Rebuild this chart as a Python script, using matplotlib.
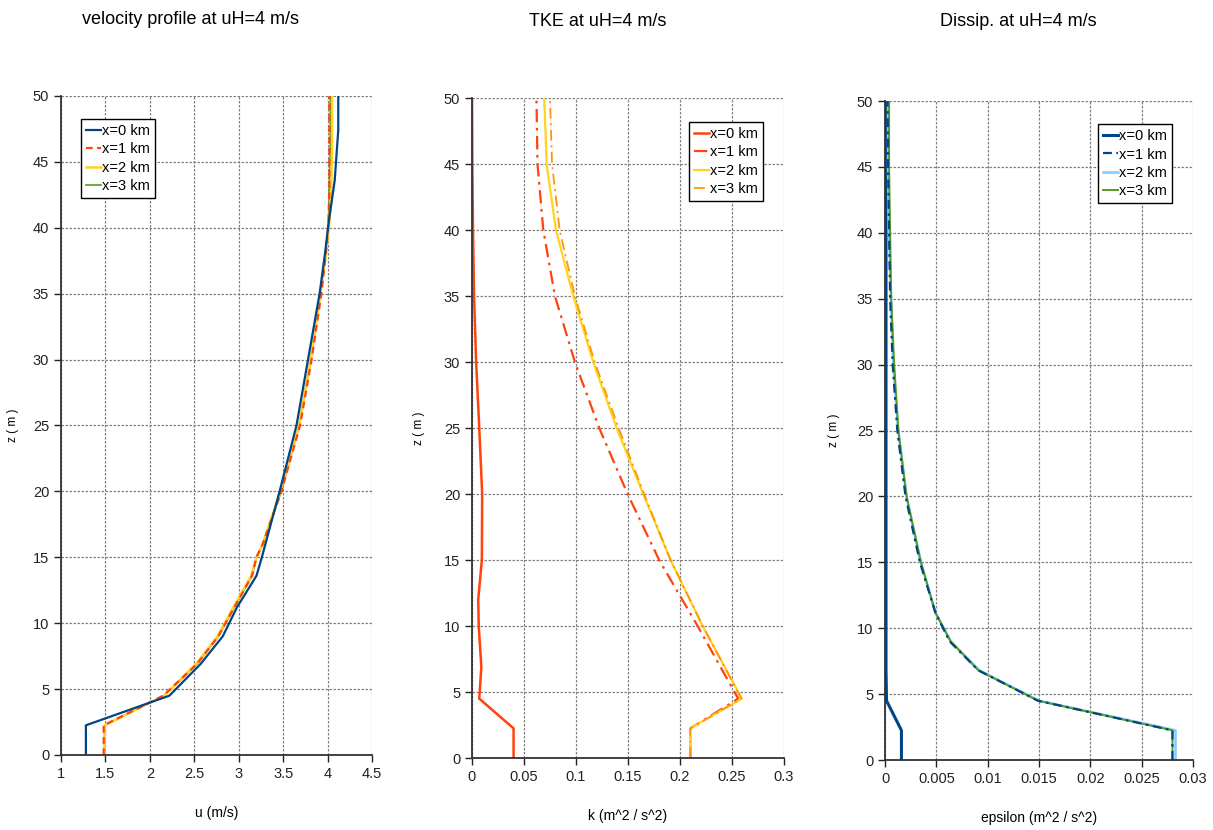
import numpy as np
import matplotlib
matplotlib.use("Agg")
import matplotlib.pyplot as plt
from matplotlib.ticker import FuncFormatter, MultipleLocator

plt.rcParams['font.family'] = ['Liberation Sans', 'DejaVu Sans']

# velocity profiles, u (m/s) against height z (m)
z_u0 = [0, 2.25, 4.5, 6.9, 9.0, 11.2, 13.6, 15, 16, 20, 25, 30, 35, 38, 40.3, 43.6, 47.4, 50]
u0 = [1.28, 1.28, 2.22, 2.57, 2.82, 2.98, 3.20, 3.26, 3.30, 3.46, 3.65, 3.78, 3.91, 3.97, 4.01, 4.08, 4.12, 4.12]
z_u = [0, 2.25, 4.5, 6.9, 9.0, 11.2, 13.6, 15, 16, 20, 25, 30, 35, 38, 40.3, 43, 46, 50]
u1 = [1.48, 1.48, 2.15, 2.53, 2.77, 2.95, 3.15, 3.20, 3.27, 3.48, 3.69, 3.82, 3.93, 3.98, 4.01, 4.02, 4.02, 4.02]
u2 = [1.49, 1.49, 2.16, 2.52, 2.76, 2.94, 3.14, 3.20, 3.27, 3.47, 3.68, 3.81, 3.92, 3.98, 4.02, 4.04, 4.05, 4.05]
u3 = [1.49, 1.49, 2.16, 2.53, 2.77, 2.95, 3.15, 3.20, 3.27, 3.48, 3.68, 3.81, 3.92, 3.98, 4.01, 4.02, 4.03, 4.03]

# turbulent kinetic energy k (m^2/s^2)
z_k0 = [0, 2.25, 4.5, 6.9, 10, 12, 15, 20, 25, 30, 35, 40, 45, 50]
k0 = [0.040, 0.040, 0.007, 0.009, 0.0065, 0.006, 0.0095, 0.0098, 0.007, 0.004, 0.002, 0.001, 0.0003, 0.0]
z_k = [0, 2.25, 4.5, 10, 15, 20, 25, 30, 35, 40, 45, 50]
k1 = [0.210, 0.210, 0.256, 0.217, 0.180, 0.1497, 0.1224, 0.099, 0.0798, 0.0686, 0.063, 0.062]
k2 = [0.210, 0.210, 0.2595, 0.2218, 0.191, 0.1647, 0.1391, 0.1166, 0.0974, 0.0808, 0.0718, 0.0695]
k3 = [0.210, 0.210, 0.259, 0.222, 0.191, 0.1655, 0.141, 0.118, 0.0990, 0.0843, 0.077, 0.075]

# dissipation rate epsilon
z_e = [0, 2.25, 4.5, 6.8, 9, 11.2, 15, 20, 25, 30, 35, 40, 45, 50]
e0 = [0.0016, 0.0016, 0.00015, 0.0001, 0.0001, 0.0001, 0.0001, 0.0001, 0.0001, 0.0001, 0.0001, 0.0001, 0.0001, 0.0001]
e1 = [0.0280, 0.0280, 0.0149, 0.0091, 0.0063, 0.0049, 0.0034, 0.0020, 0.0012, 0.00075, 0.0005, 0.0004, 0.0003, 0.00025]
e2 = [0.0283, 0.0283, 0.0150, 0.0092, 0.0064, 0.0049, 0.0035, 0.0021, 0.0013, 0.0008, 0.0006, 0.0004, 0.0003, 0.0003]
e3 = [0.0280, 0.0280, 0.0149, 0.0091, 0.0064, 0.0049, 0.0035, 0.0021, 0.0013, 0.0009, 0.0006, 0.0005, 0.0004, 0.0004]

labels = ['x=0 km', 'x=1 km', 'x=2 km', 'x=3 km']

fig = plt.figure(figsize=(12.13, 8.30), dpi=100)
ax1 = fig.add_axes([0.0503, 0.0904, 0.2564, 0.794])
ax2 = fig.add_axes([0.3891, 0.0867, 0.2572, 0.795])
ax3 = fig.add_axes([0.7296, 0.0843, 0.2539, 0.794])

fmt = FuncFormatter(lambda v, p: '%g' % round(v, 6))


def style(ax, xlim, xstep, xlabel, ylab_x):
    ax.set_xlim(*xlim)
    ax.set_ylim(0, 50)
    ax.xaxis.set_major_locator(MultipleLocator(xstep))
    ax.yaxis.set_major_locator(MultipleLocator(5))
    ax.xaxis.set_major_formatter(fmt)
    ax.yaxis.set_major_formatter(fmt)
    ax.grid(True, color='#808080', linestyle=(0, (2, 1.2)), linewidth=0.9)
    ax.set_axisbelow(True)
    for s in ['top', 'right']:
        ax.spines[s].set_visible(False)
    for s in ['left', 'bottom']:
        ax.spines[s].set_color('#333333')
        ax.spines[s].set_linewidth(1.3)
    ax.tick_params(direction='out', length=5, width=1, labelsize=10.5, colors='#222222')
    ax.set_xlabel(xlabel, fontsize=10, labelpad=18)
    ax.set_ylabel('z ( m )', fontsize=8.5)
    ax.yaxis.set_label_coords(ylab_x, 0.5)


def legend(ax, x, y, order=(0, 1, 2, 3)):
    h, l = ax.get_legend_handles_labels()
    lg = ax.legend([h[i] for i in order], [l[i] for i in order],
                   loc='upper left', bbox_to_anchor=(x, y), fontsize=10.5,
                   fancybox=False, framealpha=1, edgecolor='black',
                   handlelength=1.0, handletextpad=0.1, labelspacing=0.3,
                   borderpad=0.35, borderaxespad=0)
    lg.get_frame().set_linewidth(1.0)


# velocity
ax1.plot(u3, z_u, color='#579d1c', lw=1.2, label=labels[3])
ax1.plot(u2, z_u, color='#ffd320', lw=1.8, label=labels[2])
ax1.plot(u1, z_u, color='#ff420e', lw=1.6, ls=(0, (3, 2)), label=labels[1])
ax1.plot(u0, z_u0, color='#004586', lw=1.6, label=labels[0])
style(ax1, (1, 4.5), 0.5, 'u (m/s)', -0.135)
legend(ax1, 0.064, 0.965, order=(3, 2, 1, 0))

# TKE
ax2.plot(k0, z_k0, color='#ff420e', lw=1.8, label=labels[0])
ax2.plot(k1, z_k, color='#ff420e', lw=1.6, ls=(0, (6, 2.5, 1.2, 2.5)), label=labels[1])
ax2.plot(k2, z_k, color='#ffd320', lw=1.6, label=labels[2])
ax2.plot(k3, z_k, color='#ff950e', lw=1.3, ls=(0, (6, 2.5, 1.2, 2.5)), label=labels[3])
style(ax2, (0, 0.3), 0.05, 'k (m^2 / s^2)', -0.15)
legend(ax2, 0.696, 0.964)

# dissipation
ax3.plot(e0, z_e, color='#004586', lw=2.2, label=labels[0])
ax3.plot(e2, z_e, color='#83caff', lw=1.8, label=labels[2])
ax3.plot(e3, z_e, color='#579d1c', lw=1.4, label=labels[3])
ax3.plot(e1, z_e, color='#004586', lw=1.6, ls=(0, (4, 2, 1.2, 2)), label=labels[1])
style(ax3, (0, 0.03), 0.005, 'epsilon (m^2 / s^2)', -0.145)
legend(ax3, 0.692, 0.965, order=(0, 3, 1, 2))

fig.text(82 / 1213, 1 - 20 / 830, 'velocity profile at uH=4 m/s', fontsize=13, ha='left', va='center')
fig.text(529 / 1213, 1 - 21 / 830, 'TKE at uH=4 m/s', fontsize=13, ha='left', va='center')
fig.text(940 / 1213, 1 - 22 / 830, 'Dissip. at uH=4 m/s', fontsize=13, ha='left', va='center')

fig.savefig('out.png', dpi=100)
